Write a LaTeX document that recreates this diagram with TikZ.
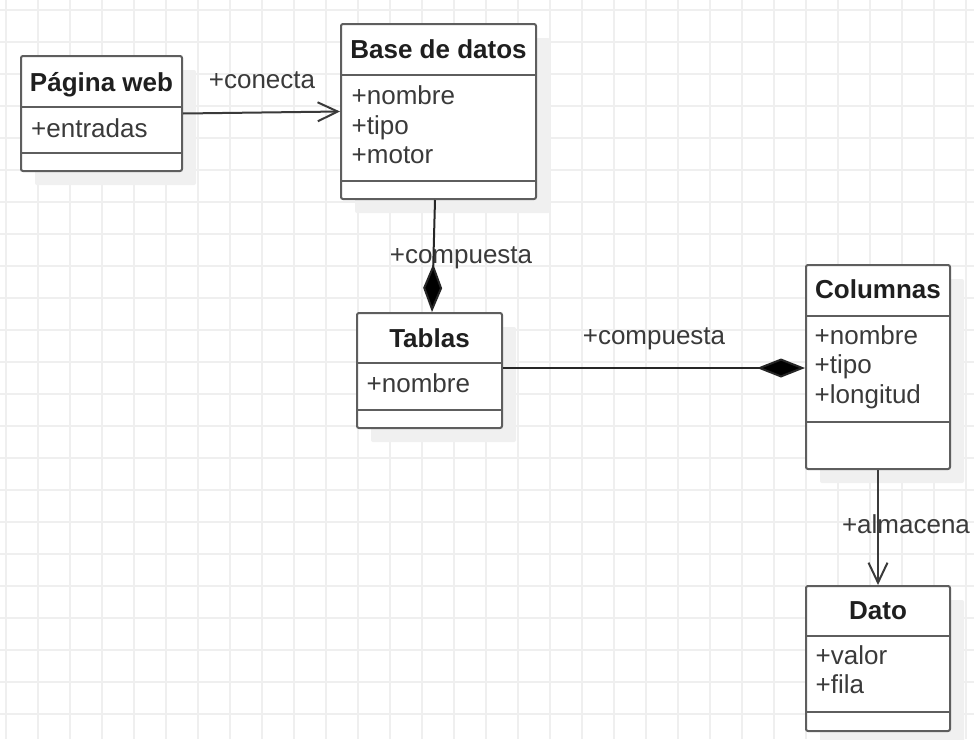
\documentclass[tikz,border=0pt]{standalone}
\usepackage{fontspec}
\setmainfont{Liberation Sans}
\usetikzlibrary{arrows.meta,shadows}

\definecolor{gridgray}{HTML}{EFEFEF}
\definecolor{boxgray}{HTML}{5E5E5E}
\definecolor{inkgray}{HTML}{3A3A3A}

\tikzset{
  gridline/.style={draw=gridgray, line width=1.2pt},
  umlclass/.style={draw=boxgray, line width=2pt, rounded corners=2pt, fill=white, inner sep=0pt,
    drop shadow={shadow xshift=14pt, shadow yshift=-14pt, fill=black!6, opacity=1}},
  classrule/.style={draw=boxgray, line width=2pt},
  classtitle/.style={anchor=base, inner sep=0pt, text=black!88,
    font=\fontsize{26pt}{30pt}\selectfont\bfseries},
  classattr/.style={anchor=base west, inner sep=0pt, text=inkgray,
    font=\fontsize{26pt}{30pt}\selectfont},
  linklabel/.style={anchor=base, inner sep=0pt, text=inkgray,
    font=\fontsize{26pt}{30pt}\selectfont},
  association/.style={draw=inkgray, line width=2pt, -{Straight Barb[length=20pt,width=19pt]}},
  composition/.style={draw=black!85, line width=2pt, -{Diamond[length=48pt,width=19pt,fill=black]}},
}

\begin{document}
\begin{tikzpicture}[x=1pt, y=-1pt]
        \useasboundingbox (0,0) rectangle (974,739);
        \fill[white] (0,0) rectangle (974,739);

        % background grid
        \foreach \gx in {6,38,...,966} \draw[gridline] (\gx,0) -- (\gx,739);
        \foreach \gy in {10,42,...,714} \draw[gridline] (0,\gy) -- (974,\gy);

        % class frames
        \node[umlclass, minimum width=161pt, minimum height=115pt] (web) at (101.5, 113.5) {};
        \node[umlclass, minimum width=195pt, minimum height=175pt] (db) at (438.5, 111.5) {};
        \node[umlclass, minimum width=145pt, minimum height=115pt] (tab) at (429.5, 370.5) {};
        \node[umlclass, minimum width=144pt, minimum height=204pt] (col) at (878, 367) {};
        \node[umlclass, minimum width=144pt, minimum height=145pt] (dato) at (878, 658.5) {};

        % compartment rules
        \draw[classrule] (web.west |- 0,107) -- (web.east |- 0,107);
        \draw[classrule] (web.west |- 0,153) -- (web.east |- 0,153);
        \draw[classrule] (db.west |- 0,75) -- (db.east |- 0,75);
        \draw[classrule] (db.west |- 0,181) -- (db.east |- 0,181);
        \draw[classrule] (tab.west |- 0,363) -- (tab.east |- 0,363);
        \draw[classrule] (tab.west |- 0,410) -- (tab.east |- 0,410);
        \draw[classrule] (col.west |- 0,316) -- (col.east |- 0,316);
        \draw[classrule] (col.west |- 0,422) -- (col.east |- 0,422);
        \draw[classrule] (dato.west |- 0,636) -- (dato.east |- 0,636);
        \draw[classrule] (dato.west |- 0,712) -- (dato.east |- 0,712);

        % class names
        \node[classtitle] (webname) at (101.5, 91) {Página web};
        \node[classtitle] (dbname) at (438.5, 58) {Base de datos};
        \node[classtitle] (tabname) at (429.5, 347) {Tablas};
        \node[classtitle] (colname) at (878, 298) {Columnas};
        \node[classtitle] (datoname) at (878, 619) {Dato};

        % attributes
        \node[classattr] (web1) at (31, 137) {+entradas};
        \node[classattr] (db1) at (351.5, 104.5) {+nombre};
        \node[classattr] (db2) at (351.5, 134) {+tipo};
        \node[classattr] (db3) at (351.5, 163.5) {+motor};
        \node[classattr] (tab1) at (366.5, 392) {+nombre};
        \node[classattr] (col1) at (814.5, 344) {+nombre};
        \node[classattr] (col2) at (814.5, 373.5) {+tipo};
        \node[classattr] (col3) at (814.5, 403) {+longitud};
        \node[classattr] (dato1) at (815.5, 664) {+valor};
        \node[classattr] (dato2) at (815.5, 693.5) {+fila};

        % relation labels
        \node[linklabel] (conecta) at (262, 88) {+conecta};
        \node[linklabel] (compuesta1) at (461, 263) {+compuesta};
        \node[linklabel] (compuesta2) at (654, 344) {+compuesta};
        \node[linklabel] (almacena) at (906, 533) {+almacena};

        % relations
        \draw[association] (web.east) -- (db.west);
        \draw[composition] ([xshift=-3.5pt]db.south) -- ([xshift=2.5pt]tab.north);
        \draw[composition] ([yshift=2.5pt]tab.east) -- ([yshift=-1pt]col.west);
        \draw[association] (col.south) -- (dato.north);
    \end{tikzpicture}
\end{document}
